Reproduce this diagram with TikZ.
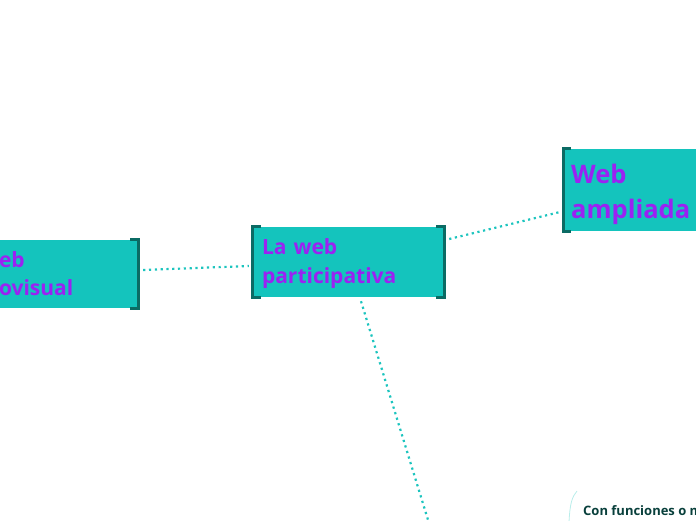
\documentclass[tikz,border=0pt]{standalone}
\usepackage{fontspec}
\setmainfont{Open Sans}
\usetikzlibrary{positioning, calc}
\definecolor{mmTeal}{HTML}{14C4BD}
\definecolor{mmTealDark}{HTML}{0B6B64}
\definecolor{mmPurple}{HTML}{9B22F2}
\definecolor{mmDots}{HTML}{1CC4BE}
\definecolor{mmInk}{HTML}{083F3B}
\definecolor{mmFaint}{HTML}{B9EDEA}
\tikzset{
  mmbox/.style={rectangle, fill=mmTeal, draw=none, align=left,
    inner ysep=0pt, text=mmPurple, font=\bfseries},
  mmbracket/.style={draw=mmTealDark, line width=3pt},
  mmlink/.style={draw=mmDots, line width=2.2pt, dash pattern=on 2.2pt off 3.6pt},
  mmleaf/.style={font=\bfseries\fontsize{13}{15}\selectfont, text=mmInk,
    inner sep=0pt, anchor=west}
}

\begin{document}
\begin{tikzpicture}[x=1pt, y=-1pt]
  \useasboundingbox (0,0) rectangle (696,520);
  \clip (0,0) rectangle (696,520);

  % main topics
  \node[mmbox, minimum width=191pt, minimum height=70pt, text width=173pt,
    inner xsep=9pt, font=\bfseries\fontsize{21}{29}\selectfont]
    (part) at (348.5,262) {\rule{0pt}{20pt}La web\\participativa};
  \node[mmbox, minimum width=200pt, minimum height=82pt, text width=184pt,
    inner xsep=8pt, font=\bfseries\fontsize{25.5}{35}\selectfont,
    anchor=west] (ampl) at (563,190) {\rule{0pt}{27.5pt}Web\\ampliada};
  \node[mmbox, minimum width=149pt, minimum height=68pt, text width=129pt,
    inner xsep=10pt, font=\bfseries\fontsize{21}{28}\selectfont]
    (audio) at (63.5,274) {eb\\ovisual};

  % brackets
  \draw[mmbracket] ([xshift=8pt]part.north west) -- (part.north west)
    -- (part.south west) -- ([xshift=8pt]part.south west);
  \draw[mmbracket] ([xshift=-8pt]part.north east) -- (part.north east)
    -- (part.south east) -- ([xshift=-8pt]part.south east);
  \draw[mmbracket] ([xshift=8pt]ampl.north west) -- (ampl.north west)
    -- (ampl.south west) -- ([xshift=8pt]ampl.south west);
  \draw[mmbracket] ([xshift=-8pt]audio.north east) -- (audio.north east)
    -- (audio.south east) -- ([xshift=-8pt]audio.south east);

  % links
  \coordinate (down) at (436,546);
  \draw[mmlink] ([shift={(5,-4)}]audio.east) -- ([shift={(-4,4)}]part.west);
  \draw[mmlink] ([shift={(5,-23)}]part.east) -- ([shift={(-3,22)}]ampl.west);
  \draw[mmlink] ([shift={(12.5,4)}]part.south) -- (down);

  % subtopic below right
  \node[mmleaf] (func) at (583,511) {Con funciones o m};
  \coordinate (fcurve) at (569,522);
  \draw[mmFaint, line width=0.8pt] (fcurve) .. controls (570,503) and (572,497) .. (577,491);
\end{tikzpicture}
\end{document}
